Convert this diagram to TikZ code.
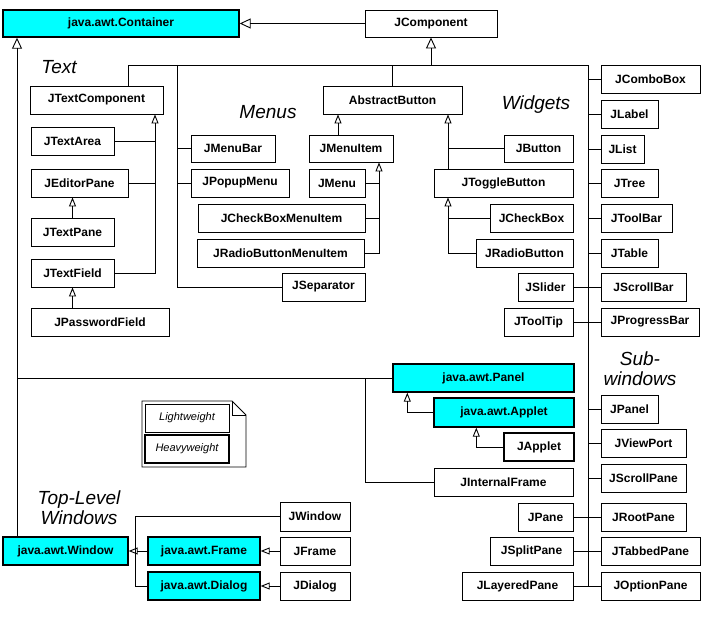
\documentclass[tikz,border=0pt]{standalone}
\usepackage{fontspec}
\setmainfont{Liberation Sans}
\usetikzlibrary{arrows.meta}
\definecolor{awtcyan}{RGB}{0,255,255}
\tikzset{
  klasse/.style={draw, line width=0.9pt, inner sep=1pt, font=\fontsize{12}{14}\selectfont\bfseries},
  awt/.style={klasse, fill=awtcyan, line width=1.4pt},
  schwer/.style={klasse, line width=1.6pt},
  leicht/.style={klasse, font=\fontsize{11}{13}\selectfont\itshape},
  schwerleg/.style={leicht, line width=1.6pt},
  erbt/.style={-{Triangle[open,width=7pt,length=9pt]}},
  erbtgross/.style={-{Triangle[open,width=10pt,length=11pt]}},
  gruppe/.style={font=\fontsize{19}{20}\selectfont\itshape, align=center},
}
% \klasse[style]{name}{x1}{y1}{x2}{y2}{text}
\newcommand{\klasse}[7][klasse]{%
  \node[#1, minimum width={(#5-#3)*1pt}, minimum height={(#6-#4)*1pt}] (#2) at ({(#3+#5)/2},{(#4+#6)/2}) {#7};
}
\begin{document}
\begin{tikzpicture}[x=1pt, y=-1pt, line width=0.9pt]
\useasboundingbox (0,0) rectangle (720,626);

%%%%%%%%%%%%%%%%%%%%%%%%%%%%%%%%%%%%%%%%%%%%%%%%%%%%%%%%%%%%%%%%%%%%%
% Container und JComponent
\klasse[awt]{cont}{3}{10}{239}{37}{java.awt.Container}
\klasse{jcomp}{365}{10}{497}{37}{JComponent}
\draw[erbtgross] (jcomp) -- (cont);

\coordinate (awtBus) at (17,0);
\coordinate (swingL) at (128,65);
\coordinate (menuBus) at (177,65);
\coordinate (swingR) at (588,65);

%%%%%%%%%%%%%%%%%%%%%%%%%%%%%%%%%%%%%%%%%%%%%%%%%%%%%%%%%%%%%%%%%%%%%
% Text
\node[gruppe] (textLabel) at (59,67) {Text};
\klasse{jtc}{30}{86}{163}{114}{JTextComponent}
\klasse{jtextarea}{31}{127}{114}{155}{JTextArea}
\klasse{jeditor}{31}{169}{128}{197}{JEditorPane}
\klasse{jtextpane}{31}{218}{114}{246}{JTextPane}
\klasse{jtextfield}{31}{259}{114}{287}{JTextField}
\klasse{jpassword}{31}{308}{169}{336}{JPasswordField}
\coordinate (textBus) at (155,0);
\draw[erbt] (jtextfield.east) -| (jtc.south -| textBus);
\draw (jtextarea.east) -- (jtextarea.east -| textBus);
\draw (jeditor.east) -- (jeditor.east -| textBus);
\draw[erbt] (jtextpane.north) -- (jtextpane.north |- jeditor.south);
\draw[erbt] (jtextfield.south |- jpassword.north) -- (jtextfield.south);

%%%%%%%%%%%%%%%%%%%%%%%%%%%%%%%%%%%%%%%%%%%%%%%%%%%%%%%%%%%%%%%%%%%%%
% Menus
\node[gruppe] (menusLabel) at (268,112) {Menus};
\klasse{jmenubar}{191}{135}{275}{162}{JMenuBar}
\klasse{jpopup}{191}{169}{289}{197}{JPopupMenu}
\klasse{absbtn}{323}{86}{462}{114}{AbstractButton}
\klasse{jmenuitem}{309}{135}{393}{162}{JMenuItem}
\klasse{jmenu}{309}{169}{365}{197}{JMenu}
\klasse{jcheckmi}{198}{204}{365}{232}{JCheckBoxMenuItem}
\klasse{jradiomi}{197}{239}{364}{267}{JRadioButtonMenuItem}
\klasse{jsep}{282}{273}{365}{301}{JSeparator}
\draw (menuBus) |- (jsep.west);
\draw (jmenubar.west) -- (jmenubar.west -| menuBus);
\draw (jpopup.west) -- (jpopup.west -| menuBus);
\draw (absbtn.north) -- (absbtn.north |- menuBus);
\draw[erbt] ([xshift=-13pt]jmenuitem.north) -- ([xshift=-13pt]jmenuitem.north |- absbtn.south);
\coordinate (itemBus) at (379,0);
\draw[erbt] (jradiomi.east) -| (jmenuitem.south -| itemBus);
\draw (jmenu.east) -- (jmenu.east -| itemBus);
\draw (jcheckmi.east) -- (jcheckmi.east -| itemBus);

%%%%%%%%%%%%%%%%%%%%%%%%%%%%%%%%%%%%%%%%%%%%%%%%%%%%%%%%%%%%%%%%%%%%%
% Widgets
\node[gruppe] (widgetsLabel) at (536,105) {Widgets};
\klasse{jbutton}{504}{135}{573}{162}{JButton}
\klasse{jtoggle}{434}{169}{573}{197}{JToggleButton}
\klasse{jcheckbox}{490}{204}{573}{232}{JCheckBox}
\klasse{jradio}{476}{239}{573}{267}{JRadioButton}
\klasse{jslider}{518}{273}{573}{301}{JSlider}
\klasse{jtooltip}{504}{308}{573}{336}{JToolTip}
\coordinate (btnBus) at (448,0);
\draw[erbt] (jtoggle.north -| btnBus) -- (absbtn.south -| btnBus);
\draw (jbutton.west) -- (jbutton.west -| btnBus);
\draw[erbt] (jradio.west) -| (jtoggle.south -| btnBus);
\draw (jcheckbox.west) -- (jcheckbox.west -| btnBus);

% rechte Spalte
\klasse{jcombo}{601}{65}{700}{93}{JComboBox}
\klasse{jlabel}{601}{100}{658}{128}{JLabel}
\klasse{jlist}{601}{135}{644}{163}{JList}
\klasse{jtree}{601}{169}{658}{197}{JTree}
\klasse{jtoolbar}{601}{204}{672}{232}{JToolBar}
\klasse{jtable}{601}{239}{658}{267}{JTable}
\klasse{jscrollbar}{601}{273}{686}{301}{JScrollBar}
\klasse{jprogress}{601}{308}{699}{336}{JProgressBar}

%%%%%%%%%%%%%%%%%%%%%%%%%%%%%%%%%%%%%%%%%%%%%%%%%%%%%%%%%%%%%%%%%%%%%
% Sub-windows
\node[gruppe] (subLabel) at (640,369) {Sub-\\windows};
\klasse{jpanel}{601}{395}{658}{423}{JPanel}
\klasse{jviewport}{601}{429}{686}{457}{JViewPort}
\klasse{jscrollpane}{601}{464}{686}{492}{JScrollPane}
\klasse{jrootpane}{601}{503}{686}{531}{JRootPane}
\klasse{jpane}{518}{503}{573}{531}{JPane}
\klasse{jtabbed}{601}{537}{700}{565}{JTabbedPane}
\klasse{jsplit}{490}{537}{573}{565}{JSplitPane}
\klasse{joption}{601}{572}{700}{600}{JOptionPane}
\klasse{jlayered}{462}{572}{573}{600}{JLayeredPane}

% Swing-Leitung
\draw (jtc.north -| swingL) -- (swingL) -- (swingR) -- (swingR |- jlayered.east);
\draw[erbtgross] (jcomp.south |- swingR) -- (jcomp.south);
\foreach \n in {jcombo,jlabel,jlist,jtree,jtoolbar,jtable,jpanel,jviewport,jscrollpane}
  \draw (\n.west) -- (\n.west -| swingR);
\foreach \a/\b in {jslider/jscrollbar,jtooltip/jprogress,jpane/jrootpane,jsplit/jtabbed,jlayered/joption}
  \draw (\a.east) -- (\b.west);

%%%%%%%%%%%%%%%%%%%%%%%%%%%%%%%%%%%%%%%%%%%%%%%%%%%%%%%%%%%%%%%%%%%%%
% Panel, Applet
\klasse[awt]{panel}{393}{364}{574}{392}{java.awt.Panel}
\klasse[awt]{applet}{434}{398}{574}{427}{java.awt.Applet}
\klasse[schwer]{japplet}{504}{433}{574}{461}{JApplet}
\klasse{jif}{434}{468}{573}{496}{JInternalFrame}
\draw (panel.west) -- (panel.west -| awtBus);
\draw[erbt] (applet.west) -| ([xshift=15pt]panel.south west);
\draw[erbt] (japplet.west) -| ([xshift=43pt]applet.south west);
\coordinate (ifBus) at (365,0);
\draw (jif.west) -| (panel.west -| ifBus);

% Legende
\draw (142,401) -- (232,401) -- (246,415) -- (246,467) -- (142,467) -- cycle;
\draw (232,401) |- (246,415);
\klasse[leicht]{lw}{145}{404}{229}{432}{Lightweight}
\klasse[schwerleg]{hw}{145}{435}{229}{463}{Heavyweight}

%%%%%%%%%%%%%%%%%%%%%%%%%%%%%%%%%%%%%%%%%%%%%%%%%%%%%%%%%%%%%%%%%%%%%
% Top-Level Windows
\node[gruppe] (topLabel) at (79,508) {Top-Level\\Windows};
\klasse[awt]{awtwin}{3}{537}{128}{565}{java.awt.Window}
\klasse[awt]{awtframe}{148}{537}{260}{565}{java.awt.Frame}
\klasse[awt]{awtdialog}{148}{572}{260}{600}{java.awt.Dialog}
\klasse{jwindow}{280}{502}{350}{531}{JWindow}
\klasse{jframe}{280}{537}{350}{565}{JFrame}
\klasse{jdialog}{280}{572}{350}{600}{JDialog}
\draw[erbtgross] (awtwin.north -| awtBus) -- (cont.south -| awtBus);
\draw[erbt] (awtframe) -- (awtwin);
\coordinate (winBus) at (135,0);
\draw (jwindow.west) -| (winBus |- awtdialog.west) -- (awtdialog.west);
\draw[erbt] (jframe) -- (awtframe);
\draw[erbt] (jdialog) -- (awtdialog);

\end{tikzpicture}
\end{document}
